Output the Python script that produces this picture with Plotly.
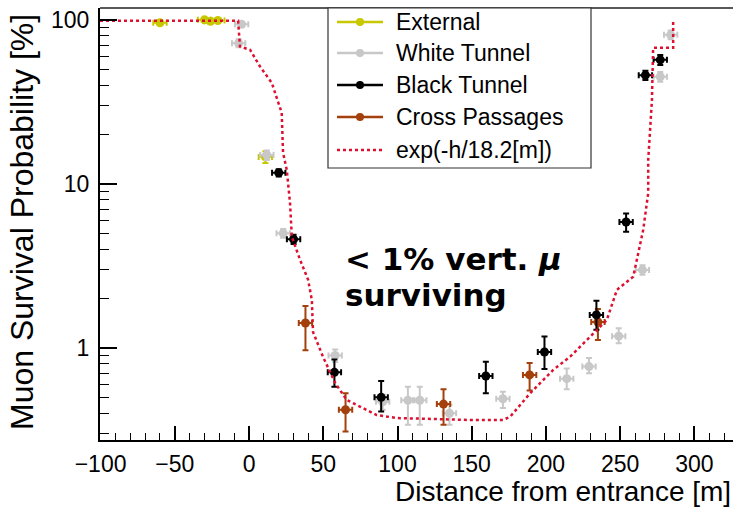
import plotly.graph_objects as go

# ---------------- data ----------------
ext_x = [-60, -30, -26, -21, 11]
ext_y = [96, 100, 98, 99, 14.6]
ext_ep = [3, 3, 3, 3, 1.2]
ext_em = [3, 3, 3, 3, 1.2]

wt_x = [-5, -7, 12, 23, 58, 90, 107, 115, 135, 171, 214, 229, 249, 265, 277, 284]
wt_y = [94, 72, 15, 5.0, 0.90, 0.47, 0.48, 0.48, 0.40, 0.49, 0.65, 0.77, 1.18, 2.99, 45, 81]
wt_ep = [3, 4, 1.0, 0.3, 0.08, 0.05, 0.10, 0.10, 0.05, 0.05, 0.10, 0.10, 0.14, 0.2, 3, 5]
wt_em = [3, 4, 1.0, 0.3, 0.08, 0.05, 0.14, 0.14, 0.06, 0.06, 0.09, 0.07, 0.11, 0.2, 3, 5]

bt_x = [20, 30, 57.5, 89, 159.5, 199, 234, 254, 267, 277]
bt_y = [11.7, 4.6, 0.71, 0.50, 0.675, 0.945, 1.59, 5.86, 46, 57]
bt_ep = [0.6, 0.3, 0.14, 0.13, 0.15, 0.23, 0.35, 0.75, 3, 4]
bt_em = [0.6, 0.3, 0.13, 0.09, 0.145, 0.2, 0.3, 0.75, 3, 4]

cp_x = [38, 65, 131, 189, 235]
cp_y = [1.42, 0.42, 0.455, 0.685, 1.44]
cp_ep = [0.38, 0.11, 0.105, 0.125, 0.29]
cp_em = [0.45, 0.11, 0.115, 0.135, 0.32]

x_err = 4.5

curve_x = [-100.4, -7.4, -6.1, 0.7, 7.4, 15.3, 22.0, 22.9, 25.4, 27.6, 28.8, 34.4, 39.8,
           42.3, 43.1, 49.9, 58, 65.8, 86, 99.5, 149, 171, 175.9, 189.4, 204.9, 216.3,
           227.6, 241, 247.8, 258.8, 265.5, 268.9, 268.9, 271.4, 272.2, 285.7, 285.7]
curve_y = [98.8, 98.8, 68.7, 65.6, 51.9, 41.3, 27.1, 15.5, 12.2, 7.66, 4.77, 3.44, 2.60,
           1.96, 1.25, 0.881, 0.612, 0.482, 0.39, 0.374, 0.364, 0.364, 0.381, 0.530, 0.735,
           0.885, 1.12, 1.48, 2.26, 2.72, 5.24, 8.81, 14.0, 32.5, 67.5, 67.5, 100]

series_names = ["External", "White Tunnel", "Black Tunnel", "Cross Passages"]
curve_name = "exp(-h/18.2[m])"

y_major = [1, 10, 100]
y_minor = [0.3, 0.4, 0.5, 0.6, 0.7, 0.8, 0.9, 2, 3, 4, 5, 6, 7, 8, 9,
           20, 30, 40, 50, 60, 70, 80, 90]

# ---------------- styles ----------------
YEL = "#c8c800"
GRY = "#c8c8c8"
BLK = "#000000"
BRN = "#a3400c"
RED = "#dd1030"
FONT = "Liberation Sans"

# plot area in pixels
L, R, T, B = 100, 733, 8, 440
W, H = R - L, B - T


def px(xp):
    return (xp - L) / W


def py(yp):
    return (B - yp) / H


fig = go.Figure()


def add_series(xs, ys, ep, em, color, name):
    fig.add_trace(go.Scatter(
        x=xs, y=ys, mode="markers", name=name, showlegend=False,
        marker=dict(color=color, size=9, symbol="circle"),
        error_y=dict(type="data", symmetric=False, array=ep, arrayminus=em,
                     color=color, thickness=2, width=3),
        error_x=dict(type="constant", value=x_err, color=color, thickness=2, width=3),
    ))


add_series(ext_x, ext_y, ext_ep, ext_em, YEL, series_names[0])
add_series(wt_x, wt_y, wt_ep, wt_em, GRY, series_names[1])
add_series(cp_x, cp_y, cp_ep, cp_em, BRN, series_names[3])
add_series(bt_x, bt_y, bt_ep, bt_em, BLK, series_names[2])

fig.add_trace(go.Scatter(
    x=curve_x, y=curve_y, mode="lines", name=curve_name, showlegend=False,
    line=dict(color=RED, width=2.5, dash="3px,3px"),
))

fig.update_layout(
    width=733, height=507,
    margin=dict(l=L, r=733 - R, t=T, b=507 - B),
    paper_bgcolor="white", plot_bgcolor="white",
    font=dict(family=FONT, color="black", size=23),
    showlegend=False,
)

fig.update_xaxes(
    range=[-100.4, 326], showgrid=False, zeroline=False,
    showline=True, linecolor="black", linewidth=2,
    ticks="inside", ticklen=14, tickwidth=1.5, tickcolor="black",
    dtick=50, tick0=0, tickfont=dict(size=23, family=FONT),
    ticklabelstandoff=2,
    minor=dict(dtick=10, ticks="inside", ticklen=7, tickwidth=1.2, tickcolor="black", showgrid=False),
)
fig.update_yaxes(
    type="log", range=[-0.561, 2.072], showgrid=False, zeroline=False,
    showline=True, linecolor="black", linewidth=2,
    ticks="inside", ticklen=17, tickwidth=1.5, tickcolor="black",
    tickvals=y_major, ticktext=[str(v) for v in y_major],
    tickfont=dict(size=23, family=FONT), ticklabelstandoff=4,
    minor=dict(tickvals=y_minor, ticks="inside", ticklen=9, tickwidth=1.2, tickcolor="black", showgrid=False),
)

# top frame line
fig.add_shape(type="line", xref="paper", yref="paper", x0=0, x1=1, y0=1, y1=1,
              line=dict(color="#222222", width=1.5))

# ---------------- legend box (drawn) ----------------
fig.add_shape(type="rect", xref="paper", yref="paper",
              x0=px(328), x1=px(591), y0=py(168), y1=py(8),
              line=dict(color="#333333", width=1.2), fillcolor="white", layer="above")
leg_rows = [22, 53, 85, 117, 150]
leg_names = series_names + [curve_name]
leg_cols = [YEL, GRY, BLK, BRN, RED]
for i, (nm, col, yr) in enumerate(zip(leg_names, leg_cols, leg_rows)):
    if i < 4:
        fig.add_shape(type="line", xref="paper", yref="paper",
                      x0=px(337), x1=px(383), y0=py(yr), y1=py(yr),
                      line=dict(color=col, width=2.5))
        fig.add_shape(type="circle", xref="paper", yref="paper",
                      x0=px(356), x1=px(364), y0=py(yr + 4), y1=py(yr - 4),
                      line=dict(color=col, width=0), fillcolor=col)
    else:
        fig.add_shape(type="line", xref="paper", yref="paper",
                      x0=px(337), x1=px(383), y0=py(yr), y1=py(yr),
                      line=dict(color=col, width=2.5, dash="3px,3px"))
    fig.add_annotation(text=nm, xref="paper", yref="paper",
                       x=px(394), y=py(yr), xanchor="left", yanchor="middle",
                       showarrow=False, font=dict(size=23, family=FONT))

# axis titles
fig.add_annotation(text="Distance from entrance [m]", xref="paper", yref="paper",
                   x=1, y=py(491), xanchor="right", yanchor="middle",
                   showarrow=False, font=dict(size=28, family=FONT))
fig.add_annotation(text="Muon Survival Probability [%]", xref="paper", yref="paper",
                   x=px(22), y=py(12), xanchor="center", yanchor="top",
                   textangle=-90, showarrow=False, font=dict(size=32, family=FONT))

# in-plot text
fig.add_annotation(text="<b>< 1% vert. <i>μ</i></b>", xref="paper", yref="paper",
                   x=px(343), y=py(259), xanchor="left", yanchor="middle",
                   showarrow=False, font=dict(size=31, family="DejaVu Sans"))
fig.add_annotation(text="<b>surviving</b>", xref="paper", yref="paper",
                   x=px(343), y=py(295), xanchor="left", yanchor="middle",
                   showarrow=False, font=dict(size=31, family="DejaVu Sans"))

fig.write_html("out.html")
